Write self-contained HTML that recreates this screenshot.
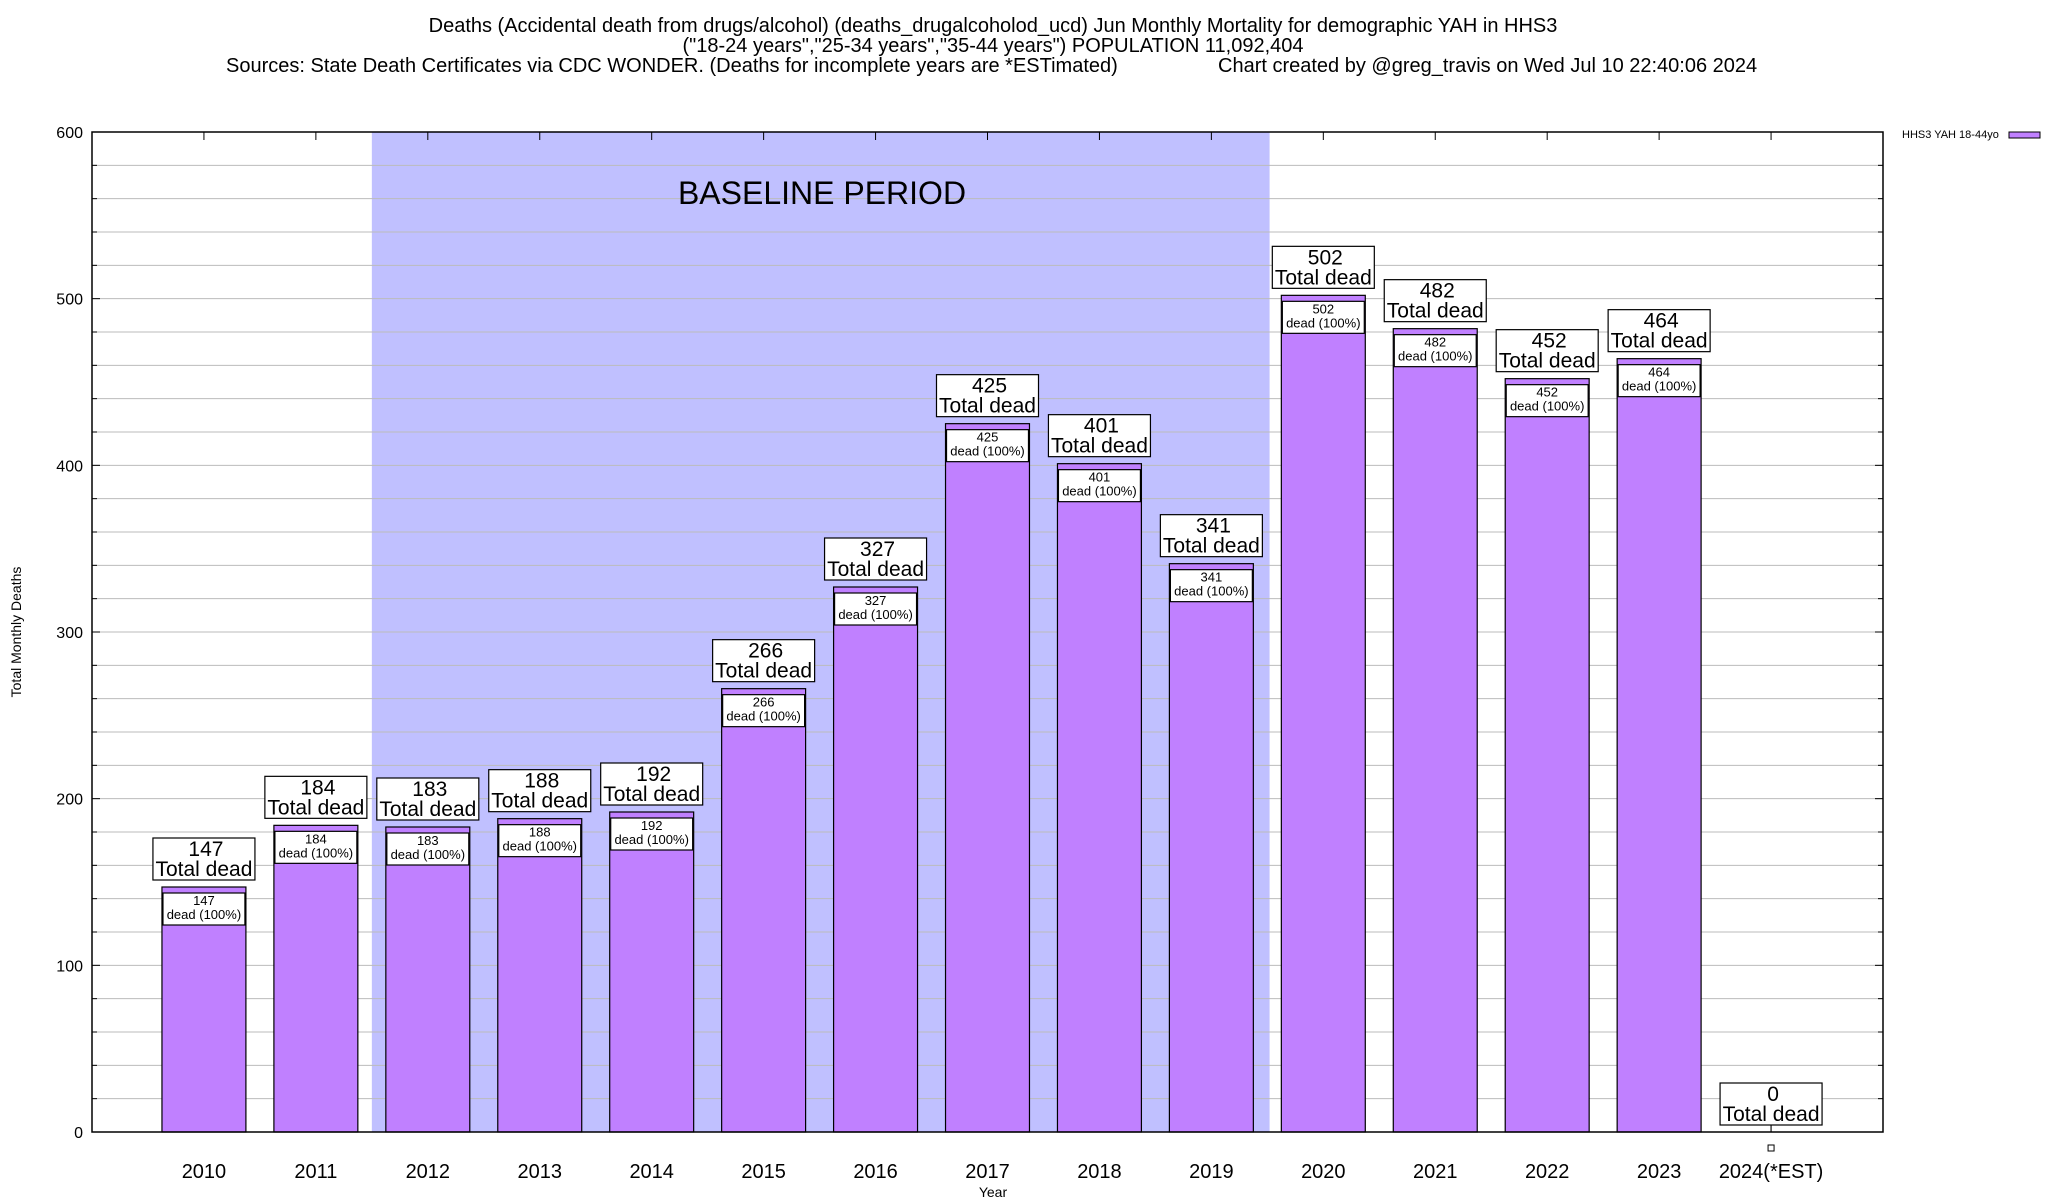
<!DOCTYPE html>
<html><head><meta charset="utf-8"><style>
html,body{margin:0;padding:0;background:#fff}
svg{display:block;font-family:"Liberation Sans",Arial,sans-serif}
</style></head><body>
<svg id="chart" width="2048" height="1200" viewBox="0 0 2048 1200" xmlns="http://www.w3.org/2000/svg">
<g font-size="20" fill="#000">
<text x="993" y="32" text-anchor="middle">Deaths (Accidental death from drugs/alcohol) (deaths_drugalcoholod_ucd) Jun Monthly Mortality for demographic YAH in HHS3</text>
<text x="993" y="52" text-anchor="middle">("18-24 years","25-34 years","35-44 years") POPULATION 11,092,404</text>
<text x="226" y="72">Sources: State Death Certificates via CDC WONDER. (Deaths for incomplete years are *ESTimated)</text>
<text x="1218" y="72">Chart created by @greg_travis on Wed Jul 10 22:40:06 2024</text>
</g>
<g id="plot"></g>
<text transform="translate(21,632) rotate(-90)" text-anchor="middle" font-size="14">Total Monthly Deaths</text>
<text x="993" y="1197" text-anchor="middle" font-size="14">Year</text>
<g>
<text x="1902" y="138" font-size="11">HHS3 YAH 18-44yo</text>
<rect x="2009" y="132" width="31" height="6" fill="#c080ff" stroke="#000" stroke-width="1"/>
</g>
</svg>
<script>
const categories=["2010","2011","2012","2013","2014","2015","2016","2017","2018","2019","2020","2021","2022","2023","2024(*EST)"];
const values=[147,184,183,188,192,266,327,425,401,341,502,482,452,464,0];
const yTicks=[0,100,200,300,400,500,600];
const baselineRange=[1.5,9.52];

const NS="http://www.w3.org/2000/svg";
const L=92,R=1883,T=132,B=1132;
const xMin=-1,xMax=15,yMax=600;
function xs(i){return L+(i-xMin)/(xMax-xMin)*(R-L);}
function ys(v){return B-v/yMax*(B-T);}
const unit=(R-L)/(xMax-xMin);
const plot=document.getElementById('plot');
function mk(tag,attrs,parent){const e=document.createElementNS(NS,tag);for(const k in attrs)e.setAttribute(k,attrs[k]);(parent||plot).appendChild(e);return e;}

const sh=mk('rect',{x:xs(baselineRange[0]),y:T,width:xs(baselineRange[1])-xs(baselineRange[0]),height:B-T,fill:'#c0c0ff'});


for(let v=20;v<yMax;v+=20){
  const g=mk('line',{x1:L,x2:R,y1:ys(v),y2:ys(v),stroke:'#bbb','stroke-width':1});
  
  
}
const bt=mk('text',{x:822,y:204,'text-anchor':'middle','font-size':32});
bt.textContent='BASELINE PERIOD';



yTicks.forEach(v=>{
  const t=mk('text',{x:83,y:ys(v)+6,'text-anchor':'end','font-size':16});
  t.textContent=v;
  
  
});
for(let v=0;v<=yMax;v+=20){
  const len=v%100===0?8:5;
  mk('line',{x1:L,x2:L+len,y1:ys(v),y2:ys(v),stroke:'#000'});
  mk('line',{x1:R-len,x2:R,y1:ys(v),y2:ys(v),stroke:'#000'});
}
const bw=0.75*unit;
categories.forEach((c,i)=>{
  const cx=xs(i),v=values[i];
  mk('line',{x1:cx,x2:cx,y1:B,y2:B-8,stroke:'#000'});
  mk('line',{x1:cx,x2:cx,y1:T,y2:T+8,stroke:'#000'});
  const xl=mk('text',{x:cx,y:1178,'text-anchor':'middle','font-size':20});
  xl.textContent=c;
  
  
  if(v>0){
    const b=mk('rect',{x:cx-bw/2,y:ys(v),width:bw,height:B-ys(v),fill:'#c080ff',stroke:'#000','stroke-width':1.2});
    
    
    const ib=mk('rect',{x:cx-bw/2+1,y:ys(v)+6,width:bw-2,height:32,fill:'#fff',stroke:'#000','stroke-width':1.2});
    
    
    const t1=mk('text',{x:cx,y:ys(v)+18,'text-anchor':'middle','font-size':13});
    t1.textContent=v;
    
    
    const t2=mk('text',{x:cx,y:ys(v)+32,'text-anchor':'middle','font-size':13});
    t2.textContent='dead (100%)';
    
    
  } else {
    mk('line',{x1:cx,x2:cx,y1:B,y2:B-14,stroke:'#000'});
    const m=mk('rect',{x:cx-3,y:B+13,width:6,height:6,fill:'#fff',stroke:'#000'});
    
    
  }
  const top=ys(v)-7;
  const tb=mk('rect',{x:cx-51,y:top-42,width:102,height:42,fill:'#fff',stroke:'#000','stroke-width':1.2});
  
  
  const a=mk('text',{x:cx+2,y:top-24,'text-anchor':'middle','font-size':21});
  a.textContent=v;
  
  
  const d=mk('text',{x:cx,y:top-4,'text-anchor':'middle','font-size':21});
  d.textContent='Total dead';
  
  
});
const fr=mk('rect',{x:L,y:T,width:R-L,height:B-T,fill:'none',stroke:'#000','stroke-width':1.5});


</script>
</body></html>
